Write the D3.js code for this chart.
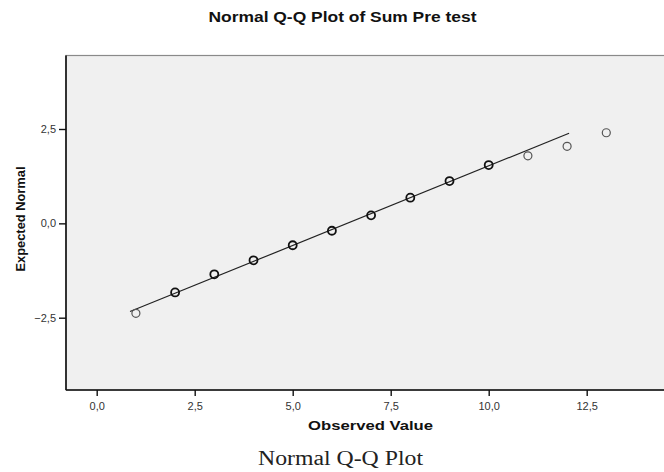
<!DOCTYPE html>
<html>
<head>
<meta charset="utf-8">
<script src="https://cdn.jsdelivr.net/npm/d3@7"></script>
<style>
  html, body { margin: 0; padding: 0; background: #fff; }
  svg { display: block; }
</style>
</head>
<body>
<svg id="chart" width="664" height="472"></svg>
<script>
// Observed sum scores and their expected normal quantiles
const observed = [1, 2, 3, 4, 5, 6, 7, 8, 9, 10, 11, 12, 13];
const expectedNormal = [-2.385, -1.83, -1.35, -0.98, -0.58, -0.196, 0.212, 0.68, 1.12, 1.545, 1.79, 2.04, 2.40];

// Reference line: z = (x - mean) / sd, drawn over this observed span
const lineSpan = [0.85, 12.05];
const sampleMean = 6.39;
const sampleSd = 2.37;

const xTicks = [0, 2.5, 5, 7.5, 10, 12.5];
const yTicks = [-2.5, 0, 2.5];

const fmt = v => d3.format(".1f")(v).replace(".", ",");

const svg = d3.select("#chart");
const plot = { left: 66, top: 55.5, right: 666, bottom: 390 };

const x = d3.scaleLinear().domain([0, 12.5]).range([96.7, 586.7]);
const y = d3.scaleLinear().domain([-2.5, 2.5]).range([317.7, 129]);

const sans = "Liberation Sans, Arial, sans-serif";

// Plot background
svg.append("rect")
  .attr("x", plot.left).attr("y", plot.top)
  .attr("width", plot.right - plot.left).attr("height", plot.bottom - plot.top)
  .attr("fill", "#f0f0f0")
  .attr("stroke", "#8a8a8a").attr("stroke-width", 1.2);

// Title
svg.append("text")
  .attr("x", 342.5).attr("y", 21.5)
  .attr("text-anchor", "middle")
  .attr("font-family", sans)
  .attr("font-weight", "bold").attr("font-size", 14)
  .attr("textLength", 268).attr("lengthAdjust", "spacingAndGlyphs")
  .attr("fill", "#111")
  .text("Normal Q-Q Plot of Sum Pre test");

// Axes
const xAxis = d3.axisBottom(x).tickValues(xTicks).tickFormat(fmt).tickSize(6).tickPadding(6);
const yAxis = d3.axisLeft(y).tickValues(yTicks).tickFormat(fmt).tickSize(7).tickPadding(3);

const gx = svg.append("g").attr("transform", `translate(0,${plot.bottom})`).call(xAxis);
const gy = svg.append("g").attr("transform", `translate(${plot.left},0)`).call(yAxis);

gx.select(".domain").attr("d", `M${plot.left},0H${plot.right}`);
gy.select(".domain").attr("d", `M0,${plot.top}V${plot.bottom}`);

[gx, gy].forEach(g => {
  g.select(".domain").attr("stroke", "#111").attr("stroke-width", 1.6);
  g.selectAll(".tick line").attr("stroke", "#111").attr("stroke-width", 1.4);
  g.selectAll(".tick text")
    .attr("font-family", sans)
    .attr("font-size", 11).attr("fill", "#333");
});

// Axis titles
svg.append("text")
  .attr("x", 370.5).attr("y", 430)
  .attr("text-anchor", "middle")
  .attr("font-family", sans)
  .attr("font-weight", "bold").attr("font-size", 13)
  .attr("textLength", 125).attr("lengthAdjust", "spacingAndGlyphs")
  .attr("fill", "#111")
  .text("Observed Value");

svg.append("text")
  .attr("transform", "translate(24.5,219) rotate(-90)")
  .attr("text-anchor", "middle")
  .attr("font-family", sans)
  .attr("font-weight", "bold").attr("font-size", 12.5)
  .attr("textLength", 105).attr("lengthAdjust", "spacingAndGlyphs")
  .attr("fill", "#111")
  .text("Expected Normal");

// Reference line
const lineData = lineSpan.map(v => [v, (v - sampleMean) / sampleSd]);
svg.append("path")
  .datum(lineData)
  .attr("fill", "none")
  .attr("stroke", "#222").attr("stroke-width", 1.2)
  .attr("d", d3.line().x(d => x(d[0])).y(d => y(d[1])));

// Points
const pts = observed.map((v, i) => ({ obs: v, exp: expectedNormal[i] }));
svg.append("g").selectAll("circle")
  .data(pts)
  .join("circle")
  .attr("cx", d => x(d.obs))
  .attr("cy", d => y(d.exp))
  .attr("r", 4)
  .attr("fill", "none")
  .attr("stroke", d => (d.obs > 1 && d.obs < 11) ? "#111" : "#555")
  .attr("stroke-width", d => (d.obs > 1 && d.obs < 11) ? 1.8 : 1.2);

// Caption below the chart
svg.append("text")
  .attr("x", 340.5).attr("y", 465)
  .attr("text-anchor", "middle")
  .attr("font-family", "Liberation Serif, Times New Roman, serif")
  .attr("font-size", 20)
  .attr("textLength", 165).attr("lengthAdjust", "spacingAndGlyphs")
  .attr("fill", "#222")
  .text("Normal Q-Q Plot");
</script>
</body>
</html>
